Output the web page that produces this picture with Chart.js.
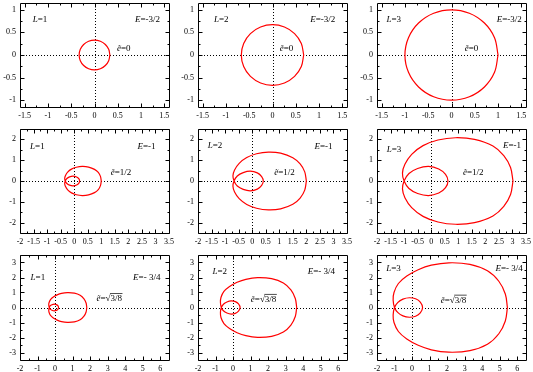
<!DOCTYPE html>
<html>
<head>
<meta charset="utf-8">
<script src="https://cdn.jsdelivr.net/npm/chart.js@4.4.0/dist/chart.umd.min.js"></script>
<style>
  html, body { margin: 0; padding: 0; background: #fff; }
  #wrap { position: relative; width: 533px; height: 372px; overflow: hidden; }
  #wrap canvas { position: absolute; }
</style>
</head>
<body>
<div id="wrap"></div>
<script>
// tick labels for each row of panels
const xTicksRow1 = [-1.5, -1, -0.5, 0, 0.5, 1, 1.5];
const yTicksRow1 = [-1, -0.5, 0, 0.5, 1];
const xTicksRow2 = [-2, -1.5, -1, -0.5, 0, 0.5, 1, 1.5, 2, 2.5, 3, 3.5];
const yTicksRow2 = [-2, -1, 0, 1, 2];
const xTicksRow3 = [-2, -1, 0, 1, 2, 3, 4, 5, 6];
const yTicksRow3 = [-3, -2, -1, 0, 1, 2, 3];

// panel labels
const lValues = ['1', '2', '3'];
const eValues = ['-3/2', '-1', '- 3/4'];
const eTildeValues = ['0', '1/2', '3/8'];

// orbits, E = -3/2 (circles)
const orbitE1L1 = [[0.33,0],[0.305,0.126],[0.233,0.233],[0.126,0.305],[0,0.33],[-0.126,0.305],[-0.233,0.233],[-0.305,0.126],[-0.33,0],[-0.305,-0.126],[-0.233,-0.233],[-0.126,-0.305],[0,-0.33],[0.126,-0.305],[0.233,-0.233],[0.305,-0.126],[0.33,0]];
const orbitE1L2 = [[0.67,0],[0.619,0.256],[0.474,0.474],[0.256,0.619],[0,0.67],[-0.256,0.619],[-0.474,0.474],[-0.619,0.256],[-0.67,0],[-0.619,-0.256],[-0.474,-0.474],[-0.256,-0.619],[0,-0.67],[0.256,-0.619],[0.474,-0.474],[0.619,-0.256],[0.67,0]];
const orbitE1L3 = [[1,0],[0.924,0.383],[0.707,0.707],[0.383,0.924],[0,1],[-0.383,0.924],[-0.707,0.707],[-0.924,0.383],[-1,0],[-0.924,-0.383],[-0.707,-0.707],[-0.383,-0.924],[0,-1],[0.383,-0.924],[0.707,-0.707],[0.924,-0.383],[1,0]];

// E = -1
const orbitE2L1 = [[1.0,0],[0.97,0.22],[0.89,0.41],[0.75,0.56],[0.53,0.67],[0.3,0.7],[0.08,0.66],[-0.1,0.57],[-0.24,0.43],[-0.32,0.27],[-0.35,0.13],[-0.33,0],
  [-0.27,-0.12],[-0.17,-0.2],[-0.04,-0.23],[0.09,-0.19],[0.17,-0.11],[0.2,0],[0.17,0.11],[0.09,0.19],[-0.04,0.23],[-0.17,0.2],[-0.27,0.12],[-0.33,0],
  [-0.35,-0.13],[-0.32,-0.27],[-0.24,-0.43],[-0.1,-0.57],[0.08,-0.66],[0.3,-0.7],[0.53,-0.67],[0.75,-0.56],[0.89,-0.41],[0.97,-0.22],[1.0,0]];
const orbitE2L2 = [[2.0,0],[1.94,0.44],[1.77,0.82],[1.5,1.12],[1.05,1.34],[0.6,1.39],[0.16,1.31],[-0.2,1.13],[-0.48,0.85],[-0.65,0.53],[-0.71,0.25],[-0.67,0],
  [-0.55,-0.24],[-0.33,-0.4],[-0.07,-0.47],[0.19,-0.39],[0.35,-0.21],[0.41,0],[0.35,0.21],[0.19,0.39],[-0.07,0.47],[-0.33,0.4],[-0.55,0.24],[-0.67,0],
  [-0.71,-0.25],[-0.65,-0.53],[-0.48,-0.85],[-0.2,-1.13],[0.16,-1.31],[0.6,-1.39],[1.05,-1.34],[1.5,-1.12],[1.77,-0.82],[1.94,-0.44],[2.0,0]];
const orbitE2L3 = [[3.02,0],[2.93,0.65],[2.68,1.22],[2.28,1.68],[1.6,2.0],[0.9,2.08],[0.25,1.97],[-0.3,1.7],[-0.72,1.28],[-0.97,0.8],[-1.06,0.38],[-1.0,0],
  [-0.82,-0.36],[-0.5,-0.6],[-0.1,-0.7],[0.28,-0.58],[0.53,-0.32],[0.62,0],[0.53,0.32],[0.28,0.58],[-0.1,0.7],[-0.5,0.6],[-0.82,0.36],[-1.0,0],
  [-1.06,-0.38],[-0.97,-0.8],[-0.72,-1.28],[-0.3,-1.7],[0.25,-1.97],[0.9,-2.08],[1.6,-2.0],[2.28,-1.68],[2.68,-1.22],[2.93,-0.65],[3.02,0]];

// E = -3/4
const orbitE3L1 = [[1.81,0],[1.77,0.3],[1.65,0.58],[1.43,0.82],[1.1,0.96],[0.7,0.99],[0.37,0.94],[0.12,0.84],[-0.1,0.7],[-0.26,0.53],[-0.34,0.33],[-0.36,0.17],[-0.33,0],
  [-0.28,-0.11],[-0.18,-0.18],[-0.05,-0.22],[0.07,-0.19],[0.16,-0.12],[0.2,0],[0.16,0.12],[0.07,0.19],[-0.05,0.22],[-0.18,0.18],[-0.28,0.11],[-0.33,0],
  [-0.36,-0.17],[-0.34,-0.33],[-0.26,-0.53],[-0.1,-0.7],[0.12,-0.84],[0.37,-0.94],[0.7,-0.99],[1.1,-0.96],[1.43,-0.82],[1.65,-0.58],[1.77,-0.3],[1.81,0]];
const orbitE3L2 = [[3.63,0],[3.55,0.6],[3.3,1.17],[2.87,1.63],[2.2,1.92],[1.4,1.99],[0.73,1.88],[0.23,1.68],[-0.2,1.4],[-0.52,1.07],[-0.69,0.67],[-0.72,0.33],[-0.67,0],
  [-0.55,-0.22],[-0.35,-0.37],[-0.1,-0.44],[0.13,-0.39],[0.31,-0.24],[0.4,0],[0.31,0.24],[0.13,0.39],[-0.1,0.44],[-0.35,0.37],[-0.55,0.22],[-0.67,0],
  [-0.72,-0.33],[-0.69,-0.67],[-0.52,-1.07],[-0.2,-1.4],[0.23,-1.68],[0.73,-1.88],[1.4,-1.99],[2.2,-1.92],[2.87,-1.63],[3.3,-1.17],[3.55,-0.6],[3.63,0]];
const orbitE3L3 = [[5.44,0],[5.32,0.9],[4.95,1.75],[4.3,2.45],[3.3,2.88],[2.1,2.98],[1.1,2.82],[0.35,2.52],[-0.3,2.1],[-0.78,1.6],[-1.03,1.0],[-1.08,0.5],[-1.0,0],
  [-0.82,-0.33],[-0.52,-0.56],[-0.15,-0.65],[0.2,-0.58],[0.47,-0.36],[0.6,0],[0.47,0.36],[0.2,0.58],[-0.15,0.65],[-0.52,0.56],[-0.82,0.33],[-1.0,0],
  [-1.08,-0.5],[-1.03,-1.0],[-0.78,-1.6],[-0.3,-2.1],[0.35,-2.52],[1.1,-2.82],[2.1,-2.98],[3.3,-2.88],[4.3,-2.45],[4.95,-1.75],[5.32,-0.9],[5.44,0]];

const FONT = '"Liberation Serif", "Times New Roman", serif';

// layout of the 3x3 grid: plot boxes in page pixels
const colLeft = [20, 198, 377];
const rowTop = [3, 128.5, 254.5];
const plotW = 149;
const rowH = [104, 104, 105];

const rows = [
  { xr: [-1.6, 1.6], yr: [-1.15, 1.15], xt: xTicksRow1, yt: yTicksRow1,
    orbits: [orbitE1L1, orbitE1L2, orbitE1L3],
    textPos: [
      { L: [-1.17, 0.79], E: [1.14, 0.79], e: [0.63, 0.13] },
      { L: [-1.1, 0.79], E: [1.08, 0.79], e: [0.3, 0.14] },
      { L: [-1.24, 0.79], E: [1.24, 0.79], e: [0.43, 0.14] }] },
  { xr: [-2, 3.5], yr: [-2.5, 2.5], xt: xTicksRow2, yt: yTicksRow2,
    orbits: [orbitE2L1, orbitE2L2, orbitE2L3],
    textPos: [
      { L: [-1.36, 1.63], E: [2.67, 1.63], e: [1.73, 0.4] },
      { L: [-1.37, 1.72], E: [2.63, 1.63], e: [1.19, 0.4] },
      { L: [-1.37, 1.5], E: [2.98, 1.68], e: [1.55, 0.4] }] },
  { xr: [-2, 6.5], yr: [-3.5, 3.5], xt: xTicksRow3, yt: yTicksRow3,
    orbits: [orbitE3L1, orbitE3L2, orbitE3L3],
    textPos: [
      { L: [-0.98, 1.97], E: [5.23, 1.97], e: [3.09, 0.56] },
      { L: [-0.76, 2.42], E: [5.04, 2.42], e: [1.74, 0.5] },
      { L: [-1.06, 2.6], E: [5.54, 2.6], e: [2.36, 0.45] }] }
];

const minorTicks = (major, range) => {
  const step = major[1] - major[0];
  const out = [];
  for (let i = 0; i < major.length - 1; i++) out.push((major[i] + major[i + 1]) / 2);
  const lo = major[0] - step / 2, hi = major[major.length - 1] + step / 2;
  if (lo > range[0]) out.push(lo);
  if (hi < range[1]) out.push(hi);
  return out;
};

const drawMath = (ctx, cx, cy, parts, size) => {
  const widths = parts.map(p => {
    ctx.font = (p[1] ? 'italic ' : '') + size + 'px ' + FONT;
    return ctx.measureText(p[0]).width;
  });
  let x = cx - widths.reduce((a, b) => a + b, 0) / 2;
  ctx.textBaseline = 'middle';
  ctx.textAlign = 'left';
  parts.forEach((p, i) => {
    ctx.font = (p[1] ? 'italic ' : '') + size + 'px ' + FONT;
    ctx.fillText(p[0], x, cy);
    if (p[2]) {
      ctx.beginPath();
      ctx.lineWidth = 0.7;
      ctx.moveTo(x - 0.5, cy - size * 0.62);
      ctx.lineTo(x + widths[i] + 0.5, cy - size * 0.62);
      ctx.stroke();
    }
    x += widths[i];
  });
};

const framePlugin = {
  id: 'gnuframe',
  beforeDatasetsDraw(chart) {
    const { ctx, chartArea: a, scales: { x, y } } = chart;
    const x0 = Math.round(x.getPixelForValue(0)) + 0.5;
    const y0 = Math.round(y.getPixelForValue(0)) + 0.5;
    ctx.save();
    ctx.strokeStyle = '#000';
    ctx.lineWidth = 1;
    ctx.setLineDash([1, 2]);
    ctx.beginPath();
    ctx.moveTo(a.left, y0); ctx.lineTo(a.right, y0);
    ctx.moveTo(x0, a.top); ctx.lineTo(x0, a.bottom);
    ctx.stroke();
    ctx.restore();
  },
  afterDraw(chart) {
    const { ctx, chartArea: a, scales: { x, y } } = chart;
    const o = chart.options.plugins.gnuframe;
    const l = Math.round(a.left) + 0.5, r = Math.round(a.right) + 0.5;
    const t = Math.round(a.top) + 0.5, b = Math.round(a.bottom) + 0.5;
    ctx.save();
    ctx.strokeStyle = '#000';
    ctx.fillStyle = '#000';
    ctx.lineWidth = 1;
    ctx.beginPath();
    ctx.rect(l, t, r - l, b - t);
    const tickX = (v, len) => {
      const px = Math.round(x.getPixelForValue(v)) + 0.5;
      ctx.moveTo(px, b); ctx.lineTo(px, b - len);
      ctx.moveTo(px, t); ctx.lineTo(px, t + len);
    };
    const tickY = (v, len) => {
      const py = Math.round(y.getPixelForValue(v)) + 0.5;
      ctx.moveTo(l, py); ctx.lineTo(l + len, py);
      ctx.moveTo(r, py); ctx.lineTo(r - len, py);
    };
    o.xt.forEach(v => tickX(v, 4));
    o.yt.forEach(v => tickY(v, 4));
    minorTicks(o.xt, o.xr).forEach(v => tickX(v, 2));
    minorTicks(o.yt, o.yr).forEach(v => tickY(v, 2));
    ctx.stroke();

    const at = p => [x.getPixelForValue(p[0]), y.getPixelForValue(p[1])];
    const [lx, ly] = at(o.pos.L);
    drawMath(ctx, lx, ly, [['L', true], ['=' + o.L, false]], 9);
    const [ex, ey] = at(o.pos.E);
    drawMath(ctx, ex, ey, [['E', true], ['=' + o.E, false]], 9);
    const [tx, ty] = at(o.pos.e);
    if (o.sqrt) {
      drawMath(ctx, tx, ty, [['\u1EBD', true], ['=\u221A', false], [o.e, false, true]], 9);
    } else {
      drawMath(ctx, tx, ty, [['\u1EBD', true], ['=' + o.e, false]], 9);
    }
    ctx.restore();
  }
};

const wrap = document.getElementById('wrap');
const PAD_L = 24, PAD_T = 10, PAD_R = 12, PAD_B = 16;

rows.forEach((row, ri) => {
  for (let ci = 0; ci < 3; ci++) {
    const canvas = document.createElement('canvas');
    const w = plotW + PAD_L + PAD_R;
    const h = rowH[ri] + PAD_T + PAD_B;
    canvas.width = w;
    canvas.height = h;
    canvas.style.width = w + 'px';
    canvas.style.height = h + 'px';
    canvas.style.left = (colLeft[ci] - PAD_L) + 'px';
    canvas.style.top = (rowTop[ri] - PAD_T) + 'px';
    wrap.appendChild(canvas);

    const pts = row.orbits[ci].map(([x, y]) => ({ x, y }));
    new Chart(canvas.getContext('2d'), {
      type: 'scatter',
      data: {
        datasets: [{
          data: pts,
          showLine: true,
          borderColor: '#ff0000',
          borderWidth: 1.2,
          pointRadius: 0,
          tension: 0.35,
          fill: false
        }]
      },
      options: {
        responsive: false,
        animation: false,
        devicePixelRatio: 1,
        layout: { padding: { left: 0, top: PAD_T, right: PAD_R, bottom: 0 } },
        plugins: {
          legend: { display: false },
          tooltip: { enabled: false },
          gnuframe: {
            xt: row.xt, yt: row.yt, xr: row.xr, yr: row.yr,
            pos: row.textPos[ci],
            L: lValues[ci], E: eValues[ri], e: eTildeValues[ri], sqrt: ri === 2
          }
        },
        scales: {
          x: {
            type: 'linear',
            min: row.xr[0], max: row.xr[1],
            afterBuildTicks: s => { s.ticks = row.xt.map(v => ({ value: v })); },
            afterFit: s => { s.height = PAD_B; },
            grid: { display: false, drawTicks: false },
            border: { display: false },
            ticks: {
              autoSkip: false, maxRotation: 0, padding: 4, color: '#000',
              font: { family: FONT, size: 8 },
              callback: v => String(v)
            }
          },
          y: {
            type: 'linear',
            min: row.yr[0], max: row.yr[1],
            afterBuildTicks: s => { s.ticks = row.yt.map(v => ({ value: v })); },
            afterFit: s => { s.width = PAD_L; },
            grid: { display: false, drawTicks: false },
            border: { display: false },
            ticks: {
              autoSkip: false, padding: 4, color: '#000',
              font: { family: FONT, size: 8 },
              callback: v => String(v)
            }
          }
        }
      },
      plugins: [framePlugin]
    });
  }
});
</script>
</body>
</html>
